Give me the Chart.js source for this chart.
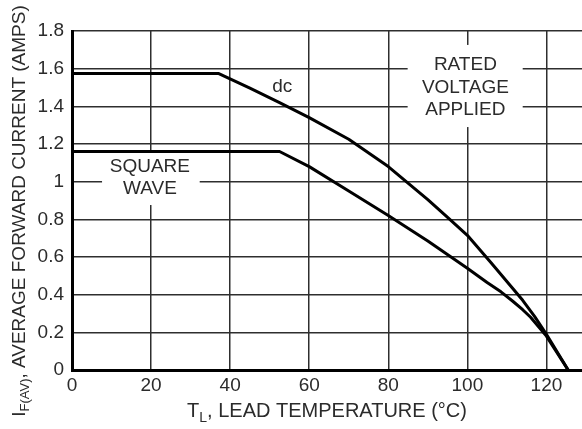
<!DOCTYPE html>
<html>
<head>
<meta charset="utf-8">
<script src="https://cdn.jsdelivr.net/npm/chart.js@4.4.1/dist/chart.umd.min.js"></script>
<style>
  body { margin: 0; background: #fff; }
  #wrap { width: 582px; height: 429px; }
</style>
</head>
<body>
<div id="wrap"><canvas id="derating" width="582" height="429"></canvas></div>
<script>
'use strict';

// dc rating curve (lead temp degC -> amps)
var dcTemp    = [0, 37, 45, 52.5, 60, 70, 80, 90, 95, 100, 106, 110, 114, 117, 120, 125.5];
var dcCurrent = [1.575, 1.575, 1.497, 1.42, 1.34, 1.225, 1.08, 0.905, 0.81, 0.715, 0.57, 0.47, 0.37, 0.285, 0.19, 0];

// square wave curve
var sqTemp    = [0, 52.5, 60, 70, 80, 90, 100, 105, 108.5, 111.5, 114, 116, 120, 125.5];
var sqCurrent = [1.16, 1.16, 1.08, 0.95, 0.82, 0.685, 0.54, 0.465, 0.415, 0.365, 0.32, 0.28, 0.18, 0];

var xTicks = [0, 20, 40, 60, 80, 100, 120];
var yTicks = [0, 0.2, 0.4, 0.6, 0.8, 1, 1.2, 1.4, 1.6, 1.8];

var xTitle = ['T', 'L', ', LEAD TEMPERATURE (\u00B0C)'];
var yTitle = ['I', 'F(AV)', ', AVERAGE FORWARD CURRENT (AMPS)'];

// curve labels: text lines, centre in data units, white box behind (data units)
var notes = [
    {lines: ['dc'], x: 53.2, y: 1.503, box: null},
    {lines: ['SQUARE', 'WAVE'], x: 19.7, y: 1.022, box: [7.6, 32.3, 1.155, 0.876]},
    {lines: ['RATED', 'VOLTAGE', 'APPLIED'], x: 99.5, y: 1.500, box: [84.9, 114, 1.726, 1.29]}
];

function toPoints(xs, ys) {
    var pts = [];
    for (var i = 0; i < xs.length; i++) {
        pts.push({x: xs[i], y: ys[i]});
    }
    return pts;
}

var FONT = '"Liberation Sans", Arial, sans-serif';
var INK = '#2b2b2b';

// title with a subscript part: [main, sub, rest]
function drawSubTitle(ctx, parts, size) {
    var subSize = Math.round(size * 0.7);
    ctx.font = size + 'px ' + FONT;
    var w0 = ctx.measureText(parts[0]).width;
    var w2 = ctx.measureText(parts[2]).width;
    ctx.font = subSize + 'px ' + FONT;
    var w1 = ctx.measureText(parts[1]).width;
    var total = w0 + w1 + w2;
    var x = -total / 2;
    ctx.textBaseline = 'alphabetic';
    ctx.textAlign = 'left';
    ctx.font = size + 'px ' + FONT;
    ctx.fillText(parts[0], x, size * 0.36);
    ctx.font = subSize + 'px ' + FONT;
    ctx.fillText(parts[1], x + w0, size * 0.36 + subSize * 0.35);
    ctx.font = size + 'px ' + FONT;
    ctx.fillText(parts[2], x + w0 + w1, size * 0.36);
}

var notesPlugin = {
    id: 'notes',
    beforeDatasetsDraw: function (chart) {
        var ctx = chart.ctx;
        var sx = chart.scales.x, sy = chart.scales.y;
        ctx.save();
        notes.forEach(function (n) {
            if (n.box) {
                var x0 = sx.getPixelForValue(n.box[0]);
                var x1 = sx.getPixelForValue(n.box[1]);
                var y0 = sy.getPixelForValue(n.box[2]);
                var y1 = sy.getPixelForValue(n.box[3]);
                ctx.fillStyle = '#fff';
                ctx.fillRect(x0, y0, x1 - x0, y1 - y0);
            }
        });
        ctx.restore();
    },
    afterDraw: function (chart) {
        var ctx = chart.ctx;
        var sx = chart.scales.x, sy = chart.scales.y;
        ctx.save();
        ctx.fillStyle = INK;
        ctx.font = '19px ' + FONT;
        ctx.textAlign = 'center';
        ctx.textBaseline = 'middle';
        notes.forEach(function (n) {
            var cx = sx.getPixelForValue(n.x);
            var cy = sy.getPixelForValue(n.y);
            var lh = 22.5;
            var top = cy - (n.lines.length - 1) * lh / 2;
            n.lines.forEach(function (t, i) {
                ctx.fillText(t, cx, top + i * lh);
            });
        });

        // axis titles
        var area = chart.chartArea;
        ctx.save();
        ctx.translate((area.left + area.right) / 2, 410);
        drawSubTitle(ctx, xTitle, 20);
        ctx.restore();

        ctx.save();
        ctx.translate(18, 211);
        ctx.rotate(-Math.PI / 2);
        drawSubTitle(ctx, yTitle, 19);
        ctx.restore();

        ctx.restore();
    }
};

var lineStyle = {
    showLine: true,
    borderColor: '#000',
    borderWidth: 3,
    borderJoinStyle: 'round',
    pointRadius: 0,
    tension: 0,
    fill: false
};

new Chart(document.getElementById('derating').getContext('2d'), {
    type: 'scatter',
    data: {
        datasets: [
            Object.assign({label: 'dc', data: toPoints(dcTemp, dcCurrent)}, lineStyle),
            Object.assign({label: 'square wave', data: toPoints(sqTemp, sqCurrent)}, lineStyle)
        ]
    },
    options: {
        responsive: false,
        animation: false,
        layout: {padding: {top: 31, right: 0, left: 0, bottom: 0}},
        plugins: {
            legend: {display: false},
            tooltip: {enabled: false}
        },
        scales: {
            x: {
                type: 'linear',
                min: 0,
                max: 129,
                afterBuildTicks: function (scale) {
                    scale.ticks = xTicks.map(function (v) { return {value: v}; });
                },
                afterFit: function (scale) { scale.height = 59; },
                grid: {color: '#2e2e2e', lineWidth: 1.5, drawTicks: false},
                border: {color: '#000', width: 3},
                ticks: {
                    color: INK,
                    padding: 4,
                    maxRotation: 0,
                    font: {family: FONT, size: 19}
                }
            },
            y: {
                type: 'linear',
                min: 0,
                max: 1.8,
                afterBuildTicks: function (scale) {
                    scale.ticks = yTicks.map(function (v) { return {value: v}; });
                },
                afterFit: function (scale) { scale.width = 72; },
                grid: {color: '#2e2e2e', lineWidth: 1.5, drawTicks: false},
                border: {color: '#000', width: 3},
                ticks: {
                    color: INK,
                    padding: 8,
                    font: {family: FONT, size: 19},
                    callback: function (v) { return String(Number(v.toFixed(1))); }
                }
            }
        }
    },
    plugins: [notesPlugin]
});
</script>
</body>
</html>
